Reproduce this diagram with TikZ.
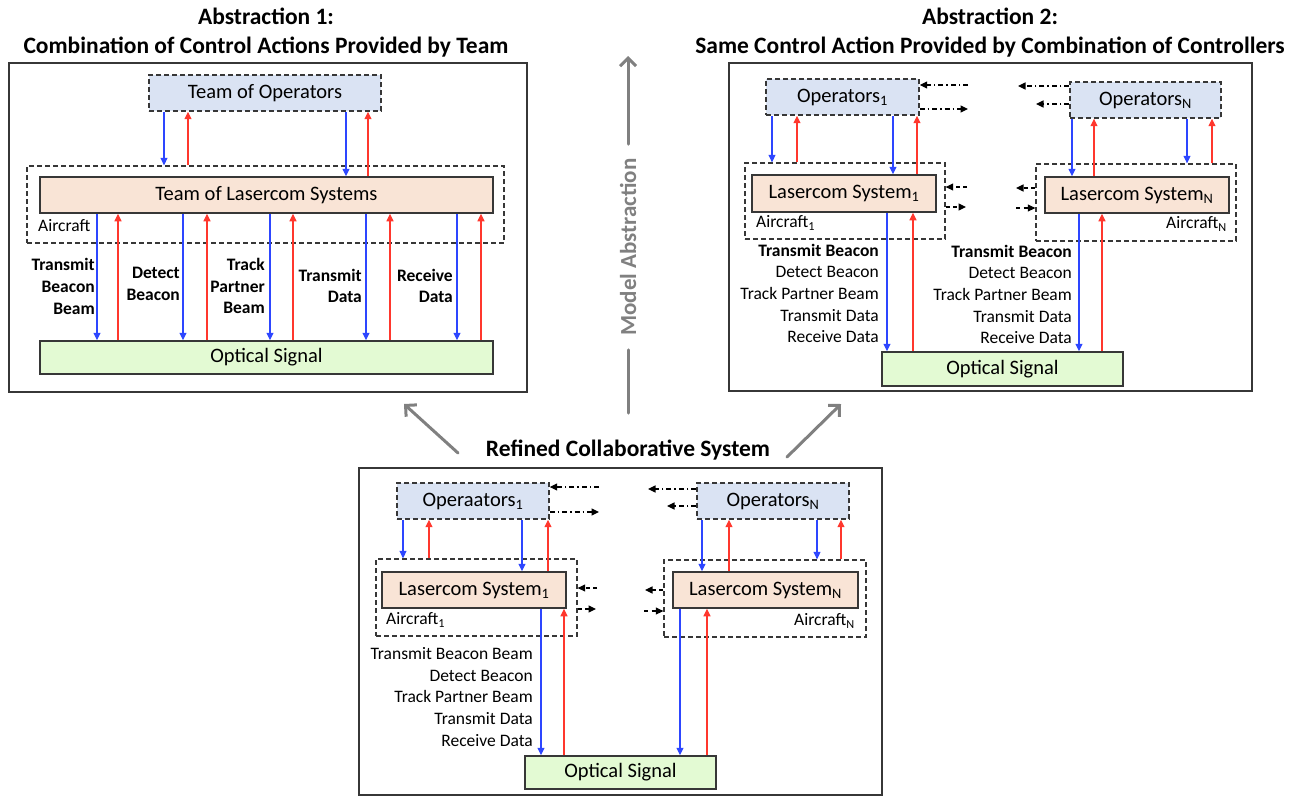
\documentclass[tikz,border=0pt]{standalone}
\usepackage{fontspec}
\setmainfont{Carlito}
\usetikzlibrary{arrows.meta}

\definecolor{edge}{RGB}{55,55,55}
\definecolor{opsfill}{RGB}{218,227,243}
\definecolor{sysfill}{RGB}{249,228,214}
\definecolor{optfill}{RGB}{227,250,211}
\definecolor{cmdblue}{RGB}{45,70,255}
\definecolor{fbred}{RGB}{255,55,45}
\definecolor{absgray}{RGB}{128,128,128}

\newcommand\bxfont{\fontsize{20.5}{24}\selectfont}
\newcommand\lblfont{\fontsize{17.5}{21.6}\selectfont}
\newcommand\crfont{\fontsize{17.5}{20}\selectfont}
\newcommand\ttlfont{\fontsize{23.5}{29}\selectfont\bfseries}

\tikzset{
  panel/.style={draw=edge, line width=2pt, inner sep=0pt},
  opsbox/.style={draw=edge, line width=1.4pt, dash pattern=on 5pt off 3pt,
    fill=opsfill, inner sep=0pt, font=\bxfont},
  sysbox/.style={draw=edge, line width=1.5pt, fill=sysfill, inner sep=0pt, font=\bxfont},
  optbox/.style={draw=edge, line width=1.5pt, fill=optfill, inner sep=0pt, font=\bxfont},
  craft/.style={draw=edge, line width=1.3pt, dash pattern=on 5pt off 3pt, inner sep=0pt},
  craftlbl/.style={font=\crfont, inner sep=0pt},
  ctl/.style={font=\lblfont, inner sep=0pt, align=right, anchor=east},
  cmd/.style={draw=cmdblue, line width=1.2pt, -{Triangle[length=7.5pt,width=7pt]}},
  fb/.style={draw=fbred, line width=1.2pt, -{Triangle[length=7.5pt,width=7pt]}},
  peer/.style={draw=black, line width=1.1pt, dash pattern=on 5pt off 3pt on 1.5pt off 3pt,
    -{Triangle[length=7.5pt,width=7pt]}},
  peerlink/.style={draw=black, line width=1.1pt, dash pattern=on 4pt off 3.5pt,
    -{Triangle[length=7.5pt,width=7pt]}},
  absarrow/.style={draw=absgray, line width=3pt, line cap=round},
  abstip/.style={absarrow, -{Straight Barb[length=8pt,width=16pt,line width=3pt]}},
}

\begin{document}
\begin{tikzpicture}[x=1pt, y=-1pt]
\useasboundingbox (0,0) rectangle (1304,796);

% ---------------- Abstraction 1: team-level model ----------------
\node[font=\ttlfont, align=center] (titleA) at (266,33) {Abstraction 1:\\Combination of Control Actions Provided by Team};
\node[panel, minimum width=518, minimum height=329] (panelA) at (268,227.5) {};

\node[opsbox, minimum width=232, minimum height=36] (opsA) at (265,93) {Team of Operators};
\node[craft, minimum width=477, minimum height=77] (craftA) at (265.5,204.5) {};
\node[sysbox, minimum width=453, minimum height=36] (sysA) at (266.5,195) {Team of Lasercom Systems};
\node[craftlbl, anchor=west] (acA) at (38,226) {Aircraft};
\node[optbox, minimum width=453, minimum height=33] (optA) at (266.5,357.5) {Optical Signal};

\draw[cmd] (164,0 |- opsA.south) -- (164,0 |- craftA.north);
\draw[fb]  (188,0 |- craftA.north) -- (188,0 |- opsA.south);
\draw[cmd] (346,0 |- opsA.south) -- (346,0 |- sysA.north);
\draw[fb]  (368,0 |- sysA.north) -- (368,0 |- opsA.south);

\foreach \bx/\rx in {97/118, 183/207, 270/293, 366/390, 457/481} {
  \draw[cmd] (\bx,0 |- sysA.south) -- (\bx,0 |- optA.north);
  \draw[fb]  (\rx,0 |- optA.north) -- (\rx,0 |- sysA.south);
}

\node[ctl, font=\lblfont\bfseries] (lA1) at (95,286.5)  {Transmit\\Beacon\\Beam};
\node[ctl, font=\lblfont\bfseries] (lA2) at (180,284)   {Detect\\Beacon};
\node[ctl, font=\lblfont\bfseries] (lA3) at (265,286)   {Track\\Partner\\Beam};
\node[ctl, font=\lblfont\bfseries] (lA4) at (362,286)   {Transmit\\Data};
\node[ctl, font=\lblfont\bfseries] (lA5) at (453,286)   {Receive\\Data};

% ---------------- Abstraction 2: controller-level model ----------------
\node[font=\ttlfont, align=center] (titleB) at (990,33) {Abstraction 2:\\Same Control Action Provided by Combination of Controllers};
\node[panel, minimum width=523, minimum height=328] (panelB) at (990.5,227) {};

\node[opsbox, minimum width=153, minimum height=36] (opsB1) at (842.5,97) {Operators\textsubscript{1}};
\node[craft, minimum width=200, minimum height=76] (craftB1) at (845,201) {};
\node[sysbox, minimum width=184, minimum height=37] (sysB1) at (844,193.5) {Lasercom System\textsubscript{1}};
\node[craftlbl, anchor=west] (acB1) at (756,223) {Aircraft\textsubscript{1}};

\node[opsbox, minimum width=151, minimum height=36] (opsBN) at (1145.5,100) {Operators\textsubscript{N}};
\node[craft, minimum width=200, minimum height=77] (craftBN) at (1136,202.5) {};
\node[sysbox, minimum width=184, minimum height=36] (sysBN) at (1137,195) {Lasercom System\textsubscript{N}};
\node[craftlbl, anchor=east] (acBN) at (1227,224) {Aircraft\textsubscript{N}};

\node[optbox, minimum width=241, minimum height=34] (optB) at (1002.5,369) {Optical Signal};

\draw[cmd] (772,0 |- opsB1.south) -- (772,0 |- craftB1.north);
\draw[fb]  (797,0 |- craftB1.north) -- (797,0 |- opsB1.south);
\draw[cmd] (893,0 |- opsB1.south) -- (893,0 |- sysB1.north);
\draw[fb]  (917,0 |- sysB1.north) -- (917,0 |- opsB1.south);

\draw[cmd] (1072,0 |- opsBN.south) -- (1072,0 |- sysBN.north);
\draw[fb]  (1094,0 |- sysBN.north) -- (1094,0 |- opsBN.south);
\draw[cmd] (1187,0 |- opsBN.south) -- (1187,0 |- craftBN.north);
\draw[fb]  (1212,0 |- craftBN.north) -- (1212,0 |- opsBN.south);

\draw[cmd] (887,0 |- sysB1.south) -- (887,0 |- optB.north);
\draw[fb]  (913,0 |- optB.north) -- (913,0 |- sysB1.south);
\draw[cmd] (1079,0 |- sysBN.south) -- (1079,0 |- optB.north);
\draw[fb]  (1102,0 |- optB.north) -- (1102,0 |- sysBN.south);

\node[ctl] (lB1) at (879,293.5) {\textbf{Transmit Beacon}\\Detect Beacon\\Track Partner Beam\\Transmit Data\\Receive Data};
\node[ctl] (lBN) at (1072,294.5) {\textbf{Transmit Beacon}\\Detect Beacon\\Track Partner Beam\\Transmit Data\\Receive Data};

% peer exchanges between the two aircraft
\coordinate (pB1) at (968,85);
\coordinate (pB2) at (968,109);
\coordinate (pB3) at (1018,86);
\coordinate (pB4) at (1036,104);
\draw[peer] (pB1) -- (opsB1.east |- pB1);
\draw[peer] (opsB1.east |- pB2) -- (pB2);
\draw[peer] (opsBN.west |- pB3) -- (pB3);
\draw[peer] (opsBN.west |- pB4) -- (pB4);

\coordinate (qB1) at (967,187);
\coordinate (qB2) at (966,207);
\coordinate (qB3) at (1016,188);
\coordinate (qB4) at (1016,208);
\draw[peerlink] (qB1) -- (craftB1.east |- qB1);
\draw[peerlink] (craftB1.east |- qB2) -- (qB2);
\draw[peerlink] (craftBN.west |- qB3) -- (qB3);
\draw[peerlink] (qB4) -- (craftBN.west |- qB4);

% ---------------- Refined collaborative system ----------------
\node[font=\ttlfont] (titleC) at (628,450) {Refined Collaborative System};
\node[panel, minimum width=523, minimum height=327] (panelC) at (620.5,631.5) {};

\node[opsbox, minimum width=152, minimum height=36] (opsC1) at (473,501) {Operaators\textsubscript{1}};
\node[craft, minimum width=201, minimum height=77] (craftC1) at (476.5,597.5) {};
\node[sysbox, minimum width=184, minimum height=36] (sysC1) at (474,590) {Lasercom System\textsubscript{1}};
\node[craftlbl, anchor=west] (acC1) at (386,620) {Aircraft\textsubscript{1}};

\node[opsbox, minimum width=152, minimum height=36] (opsCN) at (773,501) {Operators\textsubscript{N}};
\node[craft, minimum width=202, minimum height=77] (craftCN) at (765,598.5) {};
\node[sysbox, minimum width=185, minimum height=36] (sysCN) at (765.5,590) {Lasercom System\textsubscript{N}};
\node[craftlbl, anchor=east] (acCN) at (855,621) {Aircraft\textsubscript{N}};

\node[optbox, minimum width=191, minimum height=33] (optC) at (620.5,772.5) {Optical Signal};

\draw[cmd] (403,0 |- opsC1.south) -- (403,0 |- craftC1.north);
\draw[fb]  (429,0 |- craftC1.north) -- (429,0 |- opsC1.south);
\draw[cmd] (522,0 |- opsC1.south) -- (522,0 |- sysC1.north);
\draw[fb]  (548,0 |- sysC1.north) -- (548,0 |- opsC1.south);

\draw[cmd] (702,0 |- opsCN.south) -- (702,0 |- sysCN.north);
\draw[fb]  (729,0 |- sysCN.north) -- (729,0 |- opsCN.south);
\draw[cmd] (817,0 |- opsCN.south) -- (817,0 |- craftCN.north);
\draw[fb]  (841,0 |- craftCN.north) -- (841,0 |- opsCN.south);

\draw[cmd] (541,0 |- sysC1.south) -- (541,0 |- optC.north);
\draw[fb]  (564,0 |- optC.north) -- (564,0 |- sysC1.south);
\draw[cmd] (680,0 |- sysCN.south) -- (680,0 |- optC.north);
\draw[fb]  (707,0 |- optC.north) -- (707,0 |- sysCN.south);

\node[ctl] (lC1) at (533,697) {Transmit Beacon Beam\\Detect Beacon\\Track Partner Beam\\Transmit Data\\Receive Data};

\coordinate (pC1) at (599,487);
\coordinate (pC2) at (599,512);
\coordinate (pC3) at (648,489);
\coordinate (pC4) at (667,506);
\draw[peer] (pC1) -- (opsC1.east |- pC1);
\draw[peer] (opsC1.east |- pC2) -- (pC2);
\draw[peer] (opsCN.west |- pC3) -- (pC3);
\draw[peer] (opsCN.west |- pC4) -- (pC4);

\coordinate (qC1) at (597,588);
\coordinate (qC2) at (596,609);
\coordinate (qC3) at (645,590);
\coordinate (qC4) at (644,611);
\draw[peerlink] (qC1) -- (craftC1.east |- qC1);
\draw[peerlink] (craftC1.east |- qC2) -- (qC2);
\draw[peerlink] (craftCN.west |- qC3) -- (qC3);
\draw[peerlink] (qC4) -- (craftCN.west |- qC4);

% ---------------- abstraction arrows ----------------
\node[rotate=90, font=\fontsize{23}{27}\selectfont\bfseries, text=absgray, inner xsep=14pt, inner ysep=0pt] (absT) at (628,247) {Model Abstraction};
\coordinate (absBot) at (628,413);
\coordinate (absTop) at (628,56);
\draw[absarrow] (absBot) -- (absT.west);
\draw[abstip] (absT.east) -- (absTop);

\coordinate (diagL) at (458,453);
\coordinate (diagLtip) at (404,404);
\coordinate (diagR) at (787,457);
\coordinate (diagRtip) at (841,404);
\draw[abstip] (diagL) -- (diagLtip);
\draw[abstip] (diagR) -- (diagRtip);
\end{tikzpicture}
\end{document}
